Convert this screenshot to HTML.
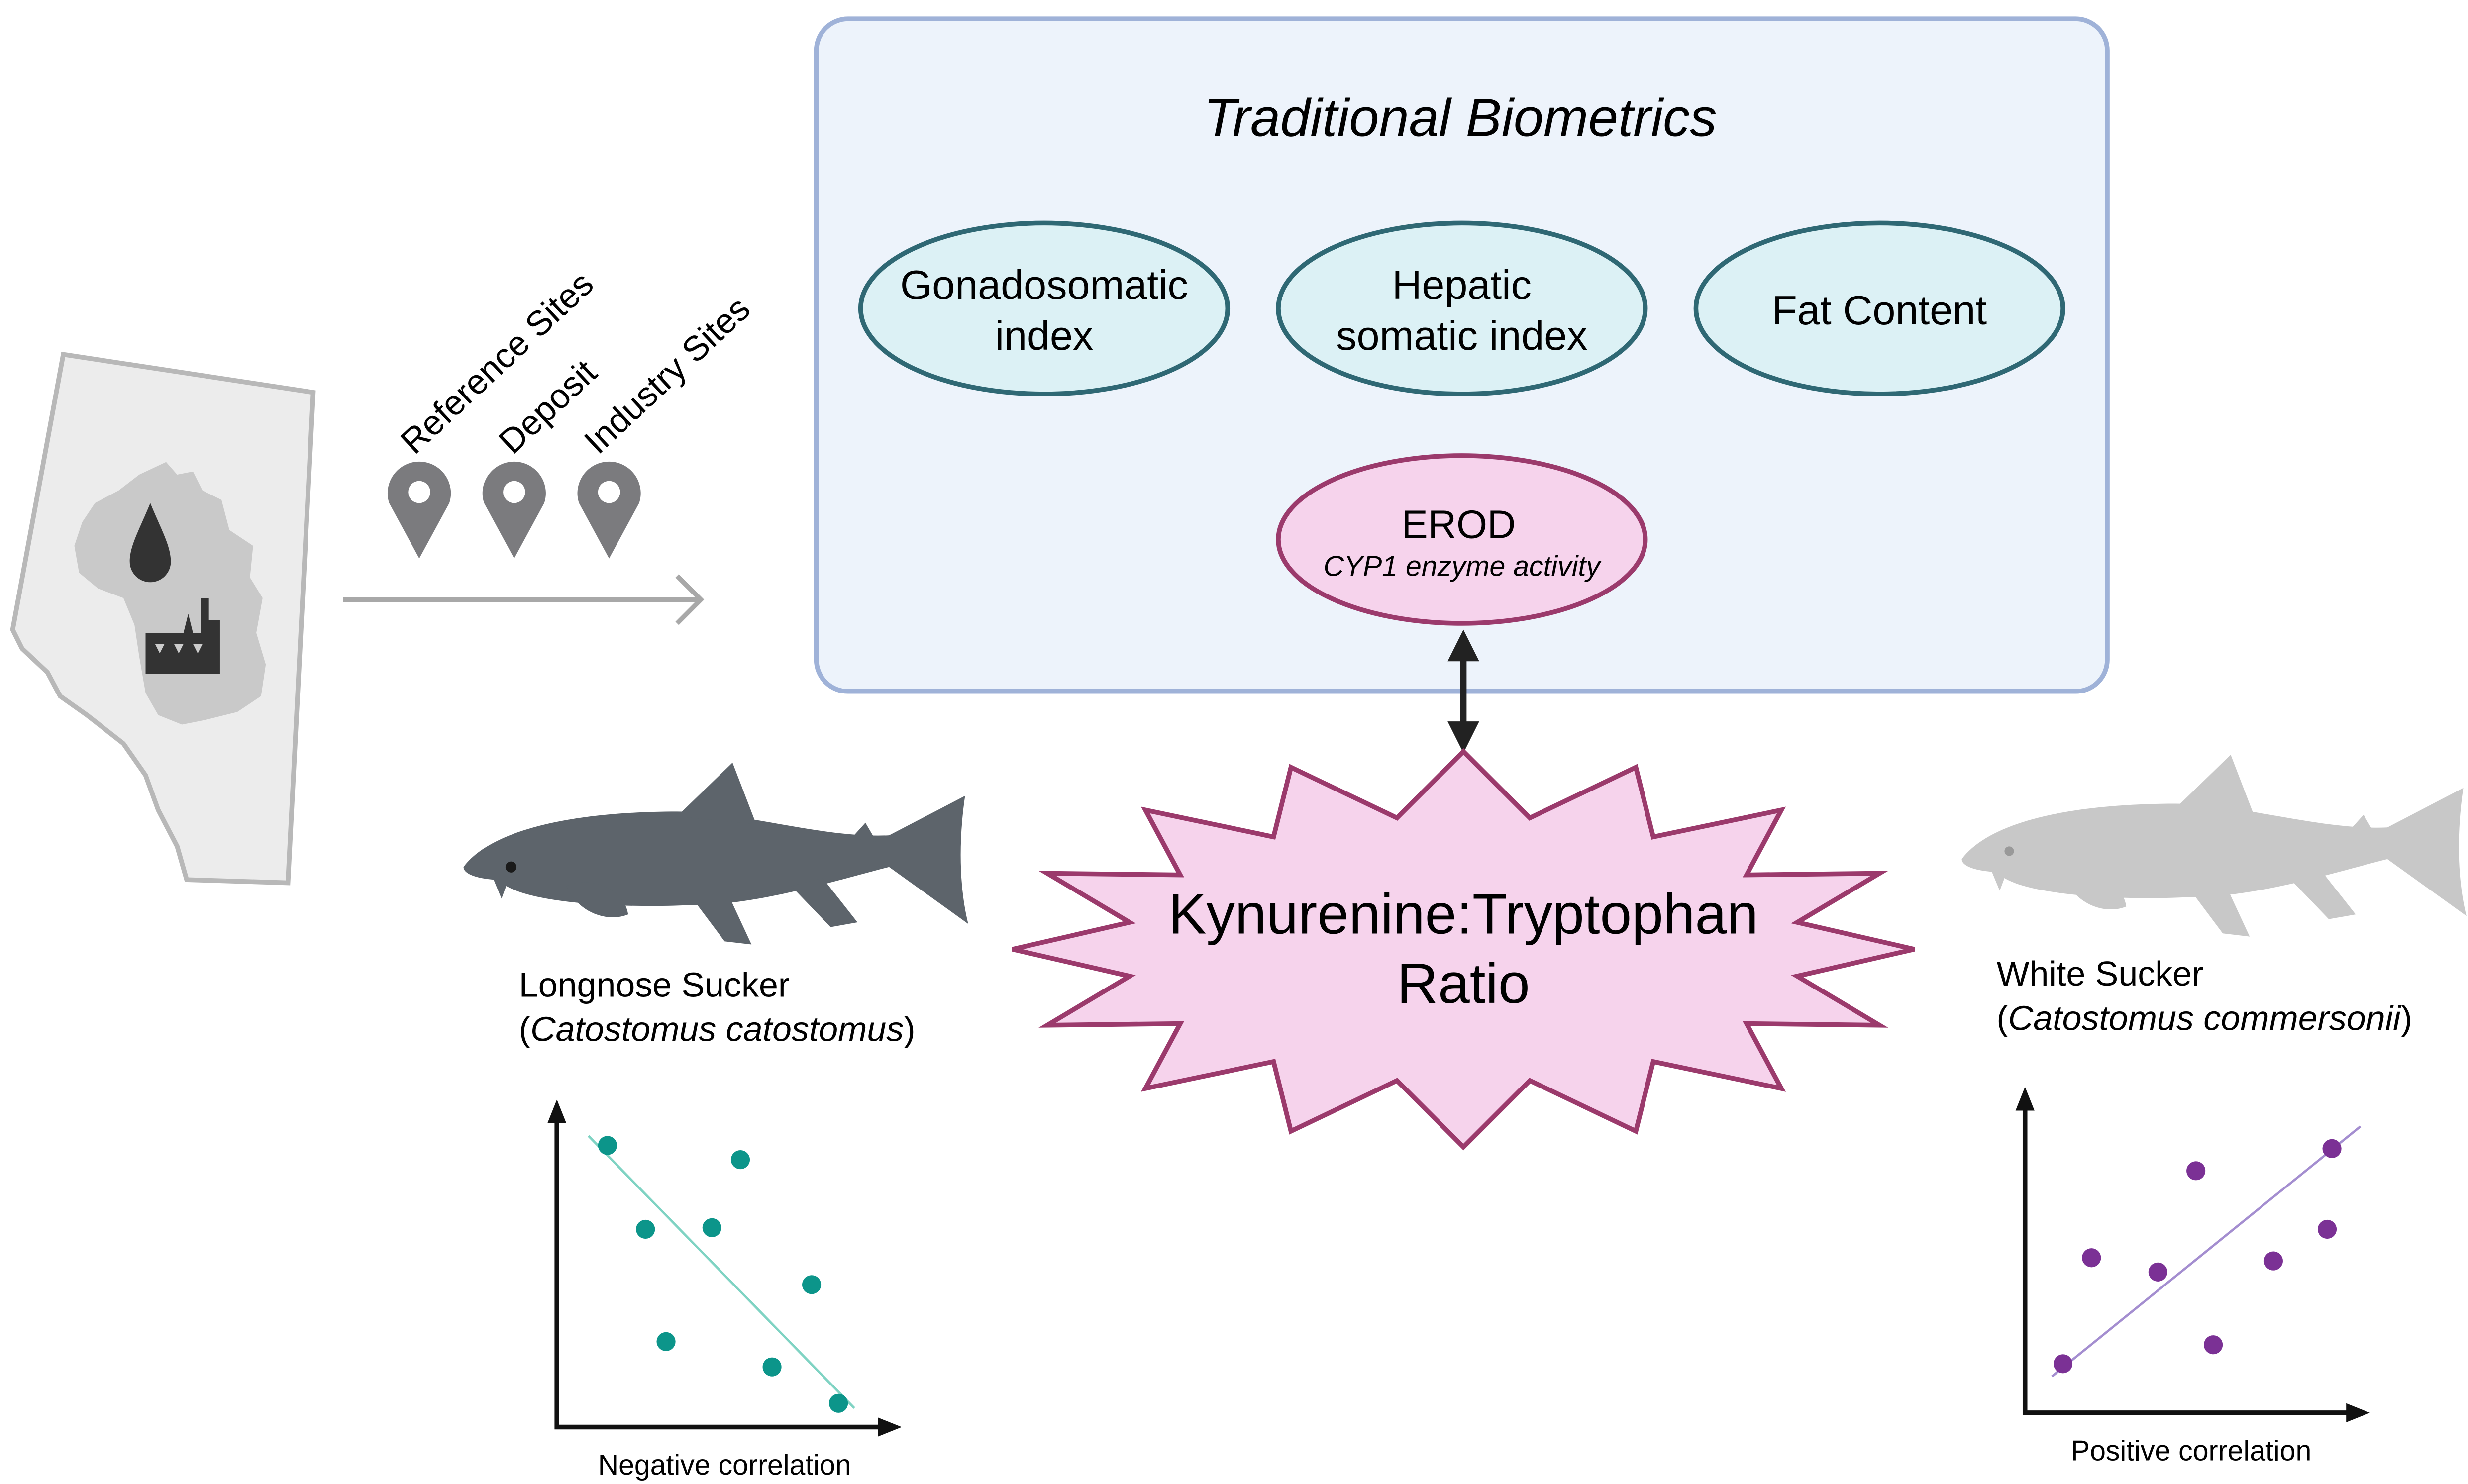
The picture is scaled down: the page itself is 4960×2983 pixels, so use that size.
<!DOCTYPE html>
<html><head><style>html,body{margin:0;padding:0;background:#fff}svg{display:block}</style></head><body>
<svg width="4960" height="2983" viewBox="0 0 1560 938" preserveAspectRatio="none" xmlns="http://www.w3.org/2000/svg" font-family="Liberation Sans, sans-serif">
<defs>
<g id="fish">
<path d="M293,548 C310,525 360,513 428,513 C470,513 520,530 562,528 L610,503 C606,530 606,560 612,584 L562,548 C530,556 480,572 439,572 C400,574 340,572 320,560 L317,568 L312,556 C300,555 293,552 293,548 Z"/>
<path d="M428,516 L463,482 L478,521 Z"/>
<path d="M358,560 C375,553 395,563 397,578 C385,583 366,578 358,560Z"/>
<path d="M440,571 L462,569 L475,597 L458,595 Z"/>
<path d="M500,560 L520,555 L542,583 L525,586 Z"/>
<path d="M538,530 L547,520 L554,532 Z"/>
</g>
</defs>
<!-- biometrics box -->
<rect x="516" y="12" width="816" height="425" rx="20" fill="#edf3fb" stroke="#9fb2d8" stroke-width="3"/>
<text x="923" y="86" text-anchor="middle" font-size="34" font-style="italic">Traditional Biometrics</text>
<g fill="#dcf1f5" stroke="#2f6874" stroke-width="3">
<ellipse cx="660" cy="195" rx="116" ry="54"/>
<ellipse cx="924" cy="195" rx="116" ry="54"/>
<ellipse cx="1188" cy="195" rx="116" ry="54"/>
</g>
<g font-size="26" text-anchor="middle">
<text x="660" y="189">Gonadosomatic</text><text x="660" y="221">index</text>
<text x="924" y="189">Hepatic</text><text x="924" y="221">somatic index</text>
<text x="1188" y="205">Fat Content</text>
</g>
<ellipse cx="924" cy="341" rx="116" ry="53" fill="#f6d3ec" stroke="#9b3a6c" stroke-width="3"/>
<text x="922" y="340" text-anchor="middle" font-size="25">EROD</text>
<text x="924" y="364" text-anchor="middle" font-size="18" font-style="italic">CYP1 enzyme activity</text>
<!-- double arrow -->
<line x1="925" y1="412" x2="925" y2="462" stroke="#222" stroke-width="4"/>
<path d="M915,418 L925,398 L935,418 Z M915,456 L925,476 L935,456 Z" fill="#222"/>
<!-- starburst -->
<polygon fill="#f6d3ec" stroke="#9b3a6c" stroke-width="3" points="1210,600 1136,617 1188,648 1104,647 1126,688 1045,671 1034,715 967,683 925,725 883,683 816,715 805,671 724,688 746,647 662,648 714,617 640,600 714,583 662,552 746,553 724,512 805,529 816,485 883,517 925,475 967,517 1034,485 1045,529 1126,512 1104,553 1188,552 1136,583"/>
<text x="925" y="590" text-anchor="middle" font-size="36">Kynurenine:Tryptophan</text>
<text x="925" y="634" text-anchor="middle" font-size="36">Ratio</text>
<!-- map -->
<path d="M40,224 L198,248 L182,558 L118,556 L112,535 L100,512 L92,490 L78,470 L55,452 L38,440 L30,425 L14,410 L8,398 Z" fill="#ececec" stroke="#b8b8b8" stroke-width="3"/>
<path d="M105,292 L112,300 L122,298 L128,310 L140,316 L145,335 L160,345 L158,365 L166,378 L162,400 L168,420 L165,440 L150,450 L130,455 L115,458 L100,452 L92,438 L88,415 L85,395 L78,378 L62,372 L50,362 L47,345 L52,330 L60,318 L75,310 L88,300 Z" fill="#c9c9c9"/>
<path d="M95,318 C88,335 82,345 82,355 A13,13 0 0 0 108,355 C108,345 102,335 95,318 Z" fill="#333"/>
<path d="M92,400 L92,426 L139,426 L139,392 L132,392 L132,378 L127,378 L127,400 L122,400 L119,388 L116,400 Z" fill="#333"/>
<g fill="#ccc"><path d="M98,407 L104,407 L101,413Z M110,407 L116,407 L113,413Z M122,407 L128,407 L125,413Z"/></g>
<!-- pins -->
<g fill="#7b7b7e">
<path d="M265,353 L246,318 A20,20 0 1 1 284,318 Z"/>
<path d="M325,353 L306,318 A20,20 0 1 1 344,318 Z"/>
<path d="M385,353 L366,318 A20,20 0 1 1 404,318 Z"/>
</g>
<g fill="#fff"><circle cx="265" cy="311" r="7"/><circle cx="325" cy="311" r="7"/><circle cx="385" cy="311" r="7"/></g>
<g font-size="22">
<text transform="translate(262,288) rotate(-43)">Reference Sites</text>
<text transform="translate(324,288) rotate(-43)">Deposit</text>
<text transform="translate(378,288) rotate(-43)">Industry Sites</text>
</g>
<line x1="217" y1="379" x2="442" y2="379" stroke="#a8a8a8" stroke-width="3"/>
<path d="M428,364 L443,379 L428,394" fill="none" stroke="#a8a8a8" stroke-width="3"/>
<!-- fish -->
<use href="#fish" fill="#5d646b"/>
<circle cx="323" cy="548" r="3.5" fill="#1a1a1a"/>
<use href="#fish" transform="translate(947,-5)" fill="#c8c8c8"/>
<circle cx="1270" cy="538" r="3" fill="#999"/>
<g font-size="22">
<text x="328" y="630">Longnose Sucker</text>
<text x="328" y="658">(<tspan font-style="italic">Catostomus catostomus</tspan>)</text>
<text x="1262" y="623">White Sucker</text>
<text x="1262" y="651">(<tspan font-style="italic">Catostomus commersonii</tspan>)</text>
</g>
<!-- left chart -->
<g stroke="#111" stroke-width="3" fill="none"><path d="M352,708 L352,902 L557,902"/></g>
<path d="M346,710 L352,695 L358,710Z M555,896 L570,902 L555,908Z" fill="#111"/>
<line x1="372" y1="718" x2="540" y2="890" stroke="#7fd3c3" stroke-width="1.5"/>
<g fill="#0c958a"><circle cx="384" cy="724" r="6"/><circle cx="468" cy="733" r="6"/><circle cx="408" cy="777" r="6"/><circle cx="450" cy="776" r="6"/><circle cx="513" cy="812" r="6"/><circle cx="421" cy="848" r="6"/><circle cx="488" cy="864" r="6"/><circle cx="530" cy="887" r="6"/></g>
<text x="458" y="932" text-anchor="middle" font-size="18">Negative correlation</text>
<!-- right chart -->
<g stroke="#111" stroke-width="3" fill="none"><path d="M1280,700 L1280,893 L1485,893"/></g>
<path d="M1274,702 L1280,687 L1286,702Z M1483,887 L1498,893 L1483,899Z" fill="#111"/>
<line x1="1297" y1="870" x2="1492" y2="712" stroke="#a48ed0" stroke-width="1.5"/>
<g fill="#7b3195"><circle cx="1388" cy="740" r="6"/><circle cx="1474" cy="726" r="6"/><circle cx="1322" cy="795" r="6"/><circle cx="1364" cy="804" r="6"/><circle cx="1437" cy="797" r="6"/><circle cx="1471" cy="777" r="6"/><circle cx="1399" cy="850" r="6"/><circle cx="1304" cy="862" r="6"/></g>
<text x="1385" y="923" text-anchor="middle" font-size="18">Positive correlation</text>
</svg>
</body></html>
